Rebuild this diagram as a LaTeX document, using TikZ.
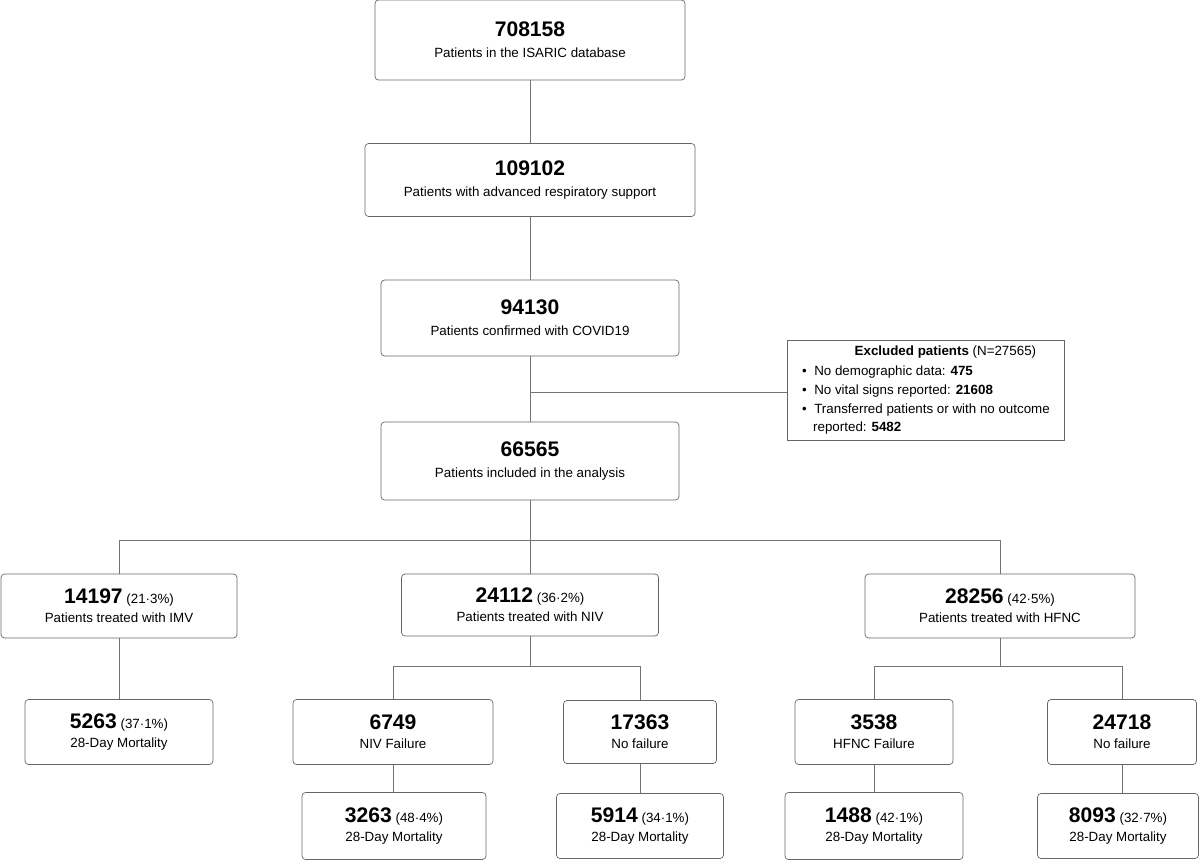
\documentclass[tikz,border=0pt]{standalone}
\usepackage{fontspec}
\setmainfont{Liberation Sans}
\usetikzlibrary{positioning}

\begin{document}
\begin{tikzpicture}[x=0.02cm, y=-0.02cm, font=\fontsize{7.6}{10}\selectfont]
    \tikzstyle{box} = [draw=black!60, rounded corners=2pt, align=center, inner sep=0pt]
    \tikzstyle{link} = [draw=black!55, line width=0.5pt]
    \useasboundingbox (0,0) rectangle (1200,863);

	% main column
	\node[box, minimum width=310\pgflinewidth*0+6.2cm, minimum height=1.6cm] (isaric) at (530,40)
		{\textbf{\large 708158}\\[2pt]Patients in the ISARIC database};
	\node[box, minimum width=6.6cm, minimum height=1.46cm] (adv) at (530,180)
		{\textbf{\large 109102}\\[2pt]Patients with advanced respiratory support};
	\node[box, minimum width=5.96cm, minimum height=1.52cm] (covid) at (530,318)
		{\textbf{\large 94130}\\[2pt]Patients confirmed with COVID19};
	\node[box, minimum width=5.96cm, minimum height=1.56cm] (incl) at (530,461)
		{\textbf{\large 66565}\\[2pt]Patients included in the analysis};
	\node[box, rounded corners=0pt, minimum width=5.54cm, minimum height=2cm, align=left] (excl) at (926,390)
		{\hspace*{1.05cm}\textbf{Excluded patients} (N=27565)\\[1pt]
		 \textbullet\ \ No demographic data: \textbf{475}\\[1pt]
		 \textbullet\ \ No vital signs reported: \textbf{21608}\\[1pt]
		 \textbullet\ \ Transferred patients or with no outcome\\
		 \hspace*{0.22cm}reported: \textbf{5482}};

	% treatments
	\node[box, minimum width=4.72cm, minimum height=1.28cm] (imv) at (119,606)
		{\textbf{\large 14197} (21·3\%)\\[1pt]Patients treated with IMV};
	\node[box, minimum width=5.14cm, minimum height=1.24cm] (niv) at (530,605)
		{\textbf{\large 24112} (36·2\%)\\[1pt]Patients treated with NIV};
	\node[box, minimum width=5.4cm, minimum height=1.28cm] (hfnc) at (1000,606)
		{\textbf{\large 28256} (42·5\%)\\[1pt]Patients treated with HFNC};

	% outcomes
	\node[box, minimum width=3.76cm, minimum height=1.3cm] (imvM) at (119,732)
		{\textbf{\large 5263} (37·1\%)\\[1pt]28-Day Mortality};
	\node[box, minimum width=4cm, minimum height=1.3cm] (nivF) at (393,732)
		{\textbf{\large 6749}\\[1pt]NIV Failure};
	\node[box, minimum width=3.06cm, minimum height=1.26cm] (nivN) at (640,732)
		{\textbf{\large 17363}\\[1pt]No failure};
	\node[box, minimum width=3.16cm, minimum height=1.3cm] (hfncF) at (874,732)
		{\textbf{\large 3538}\\[1pt]HFNC Failure};
	\node[box, minimum width=2.98cm, minimum height=1.3cm] (hfncN) at (1122,732)
		{\textbf{\large 24718}\\[1pt]No failure};
	\node[box, minimum width=3.68cm, minimum height=1.34cm] (nivFM) at (394,826)
		{\textbf{\large 3263} (48·4\%)\\[1pt]28-Day Mortality};
	\node[box, minimum width=3.34cm, minimum height=1.3cm] (nivNM) at (640,826)
		{\textbf{\large 5914} (34·1\%)\\[1pt]28-Day Mortality};
	\node[box, minimum width=3.56cm, minimum height=1.34cm] (hfncFM) at (874,826)
		{\textbf{\large 1488} (42·1\%)\\[1pt]28-Day Mortality};
	\node[box, minimum width=3.22cm, minimum height=1.3cm] (hfncNM) at (1118,826)
		{\textbf{\large 8093} (32·7\%)\\[1pt]28-Day Mortality};

	\coordinate (excl-in) at (530,392);

	\path[link]
		(isaric) -- (adv)
		(adv) -- (covid)
		(covid) -- (incl)
		(excl-in) -- (excl.west |- excl-in)
		(incl.south) -- ++(0,40) -| (imv.north)
		(incl.south) ++(0,40) -| (hfnc.north)
		(incl) -- (niv)
		(imv) -- (imvM)
		(niv.south) -- ++(0,30) -| (nivF.north)
		(niv.south) ++(0,30) -| (nivN.north)
		(hfnc.south) -- ++(0,28) -| (hfncF.north)
		(hfnc.south) ++(0,28) -| (hfncN.north)
		(nivF) -- (nivF |- nivFM.north)
		(nivN) -- (nivNM)
		(hfncF) -- (hfncFM)
		(hfncN.south) -- (hfncN.south |- hfncNM.north)
	;
\end{tikzpicture}
\end{document}
